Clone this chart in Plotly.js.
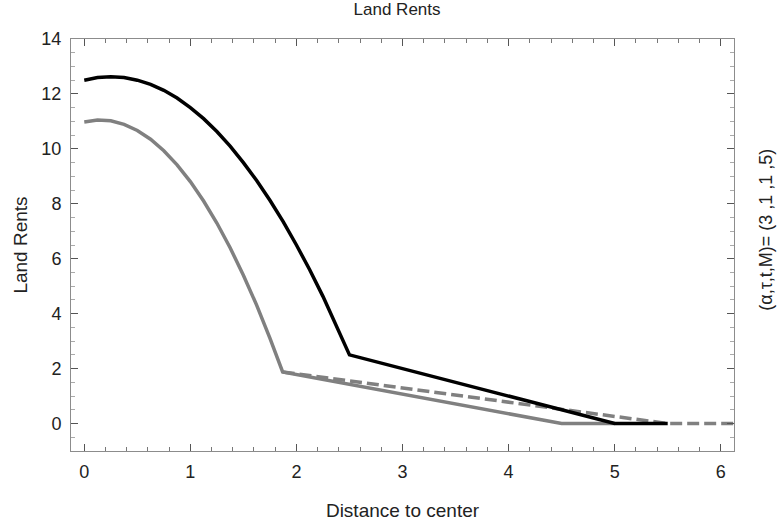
<!DOCTYPE html>
<html>
<head>
<meta charset="utf-8">
<script src="https://cdn.plot.ly/plotly-3.0.1.min.js"></script>
<style>html,body{margin:0;padding:0;background:#fff}#chart{width:777px;height:527px}</style>
</head>
<body>
<div id="chart"></div>
<script>
// Black solid curve (upper)
const blackX = [0, 0.125, 0.25, 0.375, 0.5, 0.625, 0.75, 0.875, 1.0, 1.125, 1.25, 1.375, 1.5, 1.625, 1.75, 1.875, 2.0, 2.125, 2.25, 2.375, 2.5, 5.0, 5.5];
const blackY = [12.5, 12.6, 12.63, 12.6, 12.5, 12.35, 12.13, 11.85, 11.5, 11.1, 10.63, 10.1, 9.5, 8.85, 8.13, 7.35, 6.5, 5.6, 4.63, 3.6, 2.5, 0, 0];
// Gray solid curve (lower)
const grayX = [0, 0.125, 0.25, 0.375, 0.5, 0.625, 0.75, 0.875, 1.0, 1.125, 1.25, 1.375, 1.5, 1.625, 1.75, 1.87, 4.5, 5.0];
const grayY = [10.98, 11.05, 11.02, 10.89, 10.67, 10.35, 9.93, 9.42, 8.81, 8.1, 7.3, 6.4, 5.4, 4.31, 3.11, 1.88, 0, 0];
// Gray dashed line
const dashX = [1.87, 5.5, 6.2];
const dashY = [1.88, 0, 0];

const xTicks = [0, 1, 2, 3, 4, 5, 6];
const yTicks = [0, 2, 4, 6, 8, 10, 12, 14];

const fontFam = 'Liberation Sans, Arial, sans-serif';

const traces = [
  {x: grayX, y: grayY, mode: 'lines', line: {color: '#808080', width: 3.5}, hoverinfo: 'skip'},
  {x: dashX, y: dashY, mode: 'lines', line: {color: '#808080', width: 3.5, dash: '12px,5px'}, hoverinfo: 'skip'},
  {x: blackX, y: blackY, mode: 'lines', line: {color: '#000000', width: 3.5}, hoverinfo: 'skip'}
];

const axisCommon = {
  showgrid: false, zeroline: false, showline: true, linecolor: '#8c8c8c', linewidth: 1,
  mirror: 'allticks', ticks: 'inside', ticklen: 7, tickcolor: '#555', tickwidth: 1,
  tickfont: {family: fontFam, size: 18, color: '#222'}
};

const layout = {
  width: 777, height: 527,
  margin: {l: 71, r: 43, t: 39, b: 76},
  paper_bgcolor: '#fff', plot_bgcolor: '#fff',
  showlegend: false,
  font: {family: fontFam, size: 18, color: '#222'},
  title: {text: 'Land Rents', font: {family: fontFam, size: 17, color: '#222'},
          xref: 'container', yref: 'container', x: 0.511, xanchor: 'center', y: 0.982, yanchor: 'middle'},
  xaxis: Object.assign({}, axisCommon, {
    range: [-0.125, 6.125], tickvals: xTicks, ticktext: xTicks.map(String),
    ticklabelstandoff: 4,
    minor: {ticks: 'inside', dtick: 0.2, tick0: 0, ticklen: 4, tickcolor: '#777', tickwidth: 1},
    title: {text: 'Distance to center', font: {family: fontFam, size: 19, color: '#222'}, standoff: 23}
  }),
  yaxis: Object.assign({}, axisCommon, {
    range: [-1, 14], tickvals: yTicks, ticktext: yTicks.map(String),
    ticklabelstandoff: 5,
    minor: {ticks: 'inside', dtick: 0.5, tick0: 0, ticklen: 4, tickcolor: '#aaa', tickwidth: 1},
    title: {text: 'Land Rents', font: {family: fontFam, size: 19, color: '#222'}, standoff: 8}
  }),
  annotations: [{
    text: '(α,τ,t,M)= (3 ,1 ,1 ,5)', xref: 'paper', yref: 'paper', x: 1, xshift: 32, y: 0.537,
    showarrow: false, textangle: -90, font: {family: fontFam, size: 18, color: '#222'},
    xanchor: 'center', yanchor: 'middle'
  }]
};

Plotly.newPlot('chart', traces, layout, {displayModeBar: false, staticPlot: true});
</script>
</body>
</html>
